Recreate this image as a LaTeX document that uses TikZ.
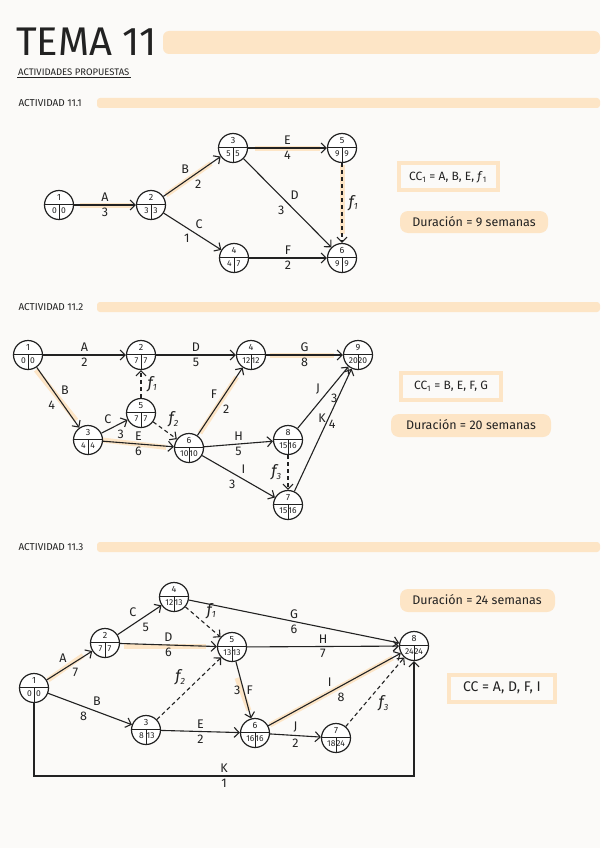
\documentclass[tikz,border=0pt]{standalone}
\usepackage{fontspec}
\setmainfont{Fira Sans}
\usetikzlibrary{arrows.meta}
\definecolor{bg}{HTML}{FBFAF8}
\definecolor{peach}{HTML}{FDE5C6}
\definecolor{ink}{HTML}{222222}
\tikzset{
 ev/.style={circle,draw=ink,line width=1.2pt,minimum size=29pt,inner sep=0pt,fill=white},
 ed/.style={-{Straight Barb[length=5pt]},line width=1.1pt,draw=ink},
 ds/.style={ed,dash pattern=on 4pt off 3pt},
 hl/.style={peach,line width=5pt,shorten >=6pt},
 lb/.style={font=\fontsize{12.5}{12.5}\selectfont,text=ink,inner sep=2.5pt},
 sm/.style={font=\fontsize{9}{9}\selectfont,text=ink,inner sep=0pt},
 fl/.style={font=\fontsize{16}{16}\selectfont\itshape,text=ink,inner sep=3pt},
}
\newcommand\fsub[1]{f\textsubscript{\fontsize{9}{9}\selectfont #1}}
\newcommand\ev[6]{%
 \node[ev] (#1) at (#2,#3) {};
 \draw[ink,line width=1pt] ([yshift=1pt]#1.west) -- ([yshift=1pt]#1.east) ([yshift=1pt]#1.center) -- (#1.south);
 \node[sm] at ([yshift=7.5pt]#1.center) {#4};
 \node[sm,font=\fontsize{8.5}{8.5}\selectfont] at ([xshift=-4.6pt,yshift=-5.8pt]#1.center) {#5};
 \node[sm,font=\fontsize{8.5}{8.5}\selectfont] at ([xshift=4.6pt,yshift=-5.8pt]#1.center) {#6};}
\newcommand\sect[3]{%
 \fill[peach,rounded corners=3pt] (#2,#1-5) rectangle (600,#1+5);
 \node[anchor=west,font=\fontsize{10}{10}\selectfont,text=ink] at (15,#1) {#3};}
\begin{document}
\begin{tikzpicture}[x=1pt,y=-1pt]
\fill[bg] (0,0) rectangle (600,848);
\useasboundingbox (0,0) rectangle (600,848);
% title
\fill[peach,rounded corners=6pt] (163,31) rectangle (600,54);
\node[anchor=west,font=\fontsize{40}{40}\selectfont,text=ink,inner sep=0pt] (title) at (16,42) {TEMA 11};
\node[anchor=west,font=\fontsize{9.5}{9.5}\selectfont,text=ink,inner sep=1pt] (sub) at (17,72) {ACTIVIDADES PROPUESTAS};
\draw[ink,line width=0.8pt] ([yshift=-1pt]sub.south west) -- ([yshift=-1pt]sub.south east);
\sect{103}{97}{ACTIVIDAD 11.1}
\sect{307}{97}{ACTIVIDAD 11.2}
\sect{547}{97}{ACTIVIDAD 11.3}

% ===== Actividad 11.1
\draw[hl] (80,205) -- (138,205);
\draw[hl] (166,195) -- (216,160);
\draw[hl] (255,148) -- (326,148);
\draw[hl] (342,165) -- (342,240);
\ev{p1}{59}{205}{1}{0}{0}
\ev{p2}{151}{205}{2}{3}{3}
\ev{p3}{233}{148}{3}{5}{5}
\ev{p4}{234}{258}{4}{4}{7}
\ev{p5}{342}{148}{5}{9}{9}
\ev{p6}{342}{258}{6}{9}{9}
\draw[ed] (p1) -- node[lb,above]{A} node[lb,below]{3} (p2);
\draw[ed] (p2) -- node[lb,above left]{B} node[lb,below right]{2} (p3);
\draw[ed] (p2) -- node[lb,above right]{C} node[lb,below left]{1} (p4);
\draw[ed] (p3) -- node[lb,above]{E} node[lb,below]{4} (p5);
\draw[ed] (p3) -- node[lb,above right]{D} node[lb,below left]{3} (p6);
\draw[ed] (p4) -- node[lb,above]{F} node[lb,below]{2} (p6);
\draw[ds] (p5) -- node[fl,right=3pt]{\fsub{1}} (p6);
\draw[peach,line width=3.5pt] (399,163) rectangle (498,190);
\node[lb,font=\fontsize{12}{12}\selectfont] (cc1) at (448,177) {CC\textsubscript{1} = A, B, E, \textit{f}\textsubscript{1}};
\fill[peach,rounded corners=8pt] (400,211) rectangle (548,233);
\node[lb,font=\fontsize{12.5}{12.5}\selectfont] (du1) at (474,222) {Duración = 9 semanas};

% ===== Actividad 11.2
\draw[hl] (36,370) -- (80,425);
\draw[hl] (102,440) -- (172,448);
\draw[hl] (200,433) -- (240,372);
\draw[hl] (270,355) -- (340,355);
\ev{q1}{28}{355}{1}{0}{0}
\ev{q2}{141}{355}{2}{7}{7}
\ev{q4}{251}{355}{4}{12}{12}
\ev{q9}{358}{355}{9}{20}{20}
\ev{q5}{141}{413}{5}{7}{7}
\ev{q3}{88}{440}{3}{4}{4}
\ev{q6}{189}{448}{6}{10}{10}
\ev{q8}{288}{440}{8}{15}{16}
\ev{q7}{288}{505}{7}{15}{16}
\draw[ed] (q1) -- node[lb,above]{A} node[lb,below]{2} (q2);
\draw[ed] (q2) -- node[lb,above]{D} node[lb,below]{5} (q4);
\draw[ed] (q4) -- node[lb,above]{G} node[lb,below]{8} (q9);
\draw[ed] (q1) -- node[lb,above right]{B} node[lb,below left]{4} (q3);
\draw[ed] (q3) -- node[lb,above left]{C} node[lb,below right]{3} (q5);
\draw[ds] (q5) -- node[fl,right=3pt]{\fsub{1}} (q2);
\draw[ds] (q5) -- node[fl,above right]{\fsub{2}} (q6);
\draw[ed] (q3) -- node[lb,above]{E} node[lb,below]{6} (q6);
\draw[ed] (q6) -- node[lb,above left]{F} node[lb,below right]{2} (q4);
\draw[ed] (q6) -- node[lb,above]{H} node[lb,below]{5} (q8);
\draw[ed] (q6) -- node[lb,above right]{I} node[lb,below left]{3} (q7);
\draw[ds] (q8) -- node[fl,left=3pt]{\fsub{3}} (q7);
\draw[ed] (q8) -- node[lb,above left]{J} node[lb,below right,pos=0.6]{3} (q9);
\draw[ed] (q7) -- node[lb,left,pos=0.6]{K} node[lb,right,pos=0.55]{4} (q9);
\draw[peach,line width=3.5pt] (401,373) rectangle (501,400);
\node[lb,font=\fontsize{12}{12}\selectfont] (cc2) at (451,386) {CC\textsubscript{1} = B, E, F, G};
\fill[peach,rounded corners=8pt] (391,414) rectangle (551,437);
\node[lb,font=\fontsize{12.5}{12.5}\selectfont] (du2) at (471,425) {Duración = 20 semanas};

% ===== Actividad 11.3
\draw[hl] (48,680) -- (88,652);
\draw[hl] (124,646) -- (212,646);
\draw[hl] (237,678) -- (251,716);
\draw[hl] (270,725) -- (398,655);
\ev{r1}{34}{688}{1}{0}{0}
\ev{r2}{105}{643}{2}{7}{7}
\ev{r4}{174}{597}{4}{12}{13}
\ev{r5}{232}{647}{5}{13}{13}
\ev{r3}{146}{730}{3}{8}{13}
\ev{r6}{255}{733}{6}{16}{16}
\ev{r7}{336}{738}{7}{18}{24}
\ev{r8}{414}{646}{8}{24}{24}
\draw[ed] (r1) -- node[lb,above left]{A} node[lb,below right]{7} (r2);
\draw[ed] (r2) -- node[lb,above left]{C} node[lb,below right]{5} (r4);
\draw[ed] (r2) -- node[lb,above]{D} node[lb,below]{6} (r5);
\draw[ed] (r4) -- node[lb,above]{G} node[lb,below]{6} (r8);
\draw[ds] (r4) -- node[fl,above right]{\fsub{1}} (r5);
\draw[ed] (r5) -- node[lb,above]{H} node[lb,below]{7} (r8);
\draw[ed] (r1) -- node[lb,above right]{B} node[lb,below left]{8} (r3);
\draw[ds] (r3) -- node[fl,above left]{\fsub{2}} (r5);
\draw[ed] (r5) -- node[lb,right]{F} node[lb,left]{3} (r6);
\draw[ed] (r3) -- node[lb,above]{E} node[lb,below]{2} (r6);
\draw[ed] (r6) -- node[lb,above]{J} node[lb,below]{2} (r7);
\draw[ed] (r6) -- node[lb,above left]{I} node[lb,below right]{8} (r8);
\draw[ds] (r7) -- node[fl,below right]{\fsub{3}} (r8);
\coordinate (k1) at (34,776); \coordinate (k2) at (414,776);
\draw[ed] (r1) -- (k1) -- node[lb,above]{K} node[lb,below]{1} (k2) -- (r8);
\fill[peach,rounded corners=8pt] (400,589) rectangle (555,612);
\node[lb,font=\fontsize{12.5}{12.5}\selectfont] (du3) at (477,600) {Duración = 24 semanas};
\draw[peach,line width=3.5pt] (449,675) rectangle (555,702);
\node[lb,font=\fontsize{14}{14}\selectfont] (cc3) at (502,688) {CC = A, D, F, I};
\end{tikzpicture}
\end{document}
